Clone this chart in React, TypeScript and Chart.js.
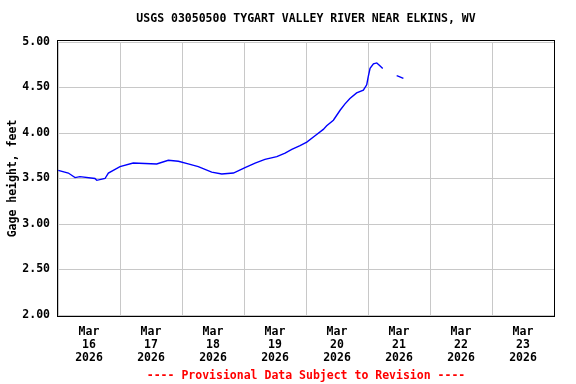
import React, { useEffect, useRef } from "react";
import { Chart, registerables } from "chart.js";

Chart.register(...registerables);

const TITLE = "USGS 03050500 TYGART VALLEY RIVER NEAR ELKINS, WV";
const FOOTER = "---- Provisional Data Subject to Revision ----";
const Y_TITLE = "Gage height, feet";

// hours since Mar 16 2026 00:00
const hours = [
  0.1, 4.0, 6.6, 8.5, 14.3, 15.0, 18.2, 19.5, 21.4, 24.0, 29.1, 38.2, 42.7, 46.6,
  50.4, 54.3, 59.5, 63.4, 67.9, 72.4, 76.3, 80.1, 84.7, 87.9, 90.5, 93.7, 96.3,
  99.5, 102.7, 104.0, 106.6, 109.2, 111.1, 113.0, 115.6, 118.2, 119.5, 120.1,
  120.8, 122.1, 123.4, 124.6, 125.7, 128.0, 131.1, 132.1, 133.7,
];
const gage: (number | null)[] = [
  3.59, 3.56, 3.51, 3.52, 3.5, 3.48, 3.5, 3.56, 3.59, 3.63, 3.67, 3.66, 3.7, 3.69,
  3.66, 3.63, 3.57, 3.55, 3.56, 3.62, 3.67, 3.71, 3.74, 3.78, 3.82, 3.86, 3.9,
  3.97, 4.04, 4.08, 4.14, 4.25, 4.32, 4.38, 4.44, 4.47, 4.53, 4.62, 4.71, 4.76,
  4.77, 4.74, 4.71, null, 4.63, 4.62, 4.6,
];
const dayLabels = ["16", "17", "18", "19", "20", "21", "22", "23"];
const monthLabel = "Mar";
const yearLabel = "2026";
const yTicks = [2.0, 2.5, 3.0, 3.5, 4.0, 4.5, 5.0];

const FONT = "'DejaVu Sans Mono', monospace";

export default function App() {
  const ref = useRef<HTMLCanvasElement>(null);
  useEffect(() => {
    document.body.style.margin = "0";
    const canvas = ref.current!;
    const framePlugin = {
      id: "frame",
      afterDraw(chart: any) {
        const { ctx, chartArea } = chart;
        const { left, top, right, bottom } = chartArea;
        ctx.save();
        ctx.strokeStyle = "#000";
        ctx.lineWidth = 1;
        ctx.strokeRect(Math.round(left) - 0.5, Math.round(top) - 1.5, Math.round(right - left) + 1, Math.round(bottom - top) + 3);
        ctx.fillStyle = "#000";
        ctx.font = `bold 11.5px ${FONT}`;
        ctx.textAlign = "center";
        ctx.textBaseline = "middle";
        const cx = (left + right) / 2;
        ctx.fillText(TITLE, cx, 19);
        ctx.fillStyle = "#ff0000";
        ctx.fillText(FOOTER, cx, 376);
        ctx.restore();
      },
    };
    const chart = new Chart(canvas, {
      type: "line",
      data: {
        datasets: [
          {
            data: hours.map((h, i) => ({ x: h, y: gage[i] as any })),
            borderColor: "#0000ff",
            borderWidth: 1.4,
            pointRadius: 0,
            tension: 0,
            spanGaps: false,
            fill: false,
          },
        ],
      },
      options: {
        animation: false,
        responsive: false,
        devicePixelRatio: 1,
        layout: { padding: { top: 42, right: 22, bottom: 0, left: 0 } },
        plugins: { legend: { display: false }, tooltip: { enabled: false }, title: { display: false } },
        scales: {
          x: {
            type: "linear",
            min: 0,
            max: 192,
            afterBuildTicks(scale: any) {
              const t = [];
              for (let v = 0; v <= 192; v += 12) t.push({ value: v });
              scale.ticks = t;
            },
            afterFit(scale: any) {
              scale.height = 69;
            },
            grid: {
              color: (c: any) => (c.tick && c.tick.value % 24 === 0 ? "#c8c8c8" : "rgba(0,0,0,0)"),
              lineWidth: 1,
              drawTicks: false,
            },
            border: { display: false },
            ticks: {
              autoSkip: false,
              maxRotation: 0,
              minRotation: 0,
              padding: 11,
              color: "#000",
              font: { family: FONT, size: 11.5, weight: "bold", lineHeight: 1.13 },
              callback: (v: any) => {
                const n = Number(v);
                if (n % 24 !== 12) return "";
                const d = Math.floor(n / 24);
                return [monthLabel, dayLabels[d], yearLabel];
              },
            },
          },
          y: {
            min: 2,
            max: 5,
            afterBuildTicks(scale: any) {
              scale.ticks = yTicks.map((v) => ({ value: v }));
            },
            afterFit(scale: any) {
              scale.width = 58;
            },
            grid: { color: "#c8c8c8", lineWidth: 1, drawTicks: false },
            border: { display: false },
            ticks: {
              padding: 8,
              color: "#000",
              font: { family: FONT, size: 11.5, weight: "bold" },
              callback: (v: any) => Number(v).toFixed(2),
            },
            title: {
              display: true,
              text: Y_TITLE,
              color: "#000",
              font: { family: FONT, size: 11.5, weight: "bold" },
              padding: { top: 6, bottom: 0 },
            },
          },
        },
      },
      plugins: [framePlugin],
    });
    return () => chart.destroy();
  }, []);
  return <canvas ref={ref} width={576} height={384} style={{ display: "block" }} />;
}
